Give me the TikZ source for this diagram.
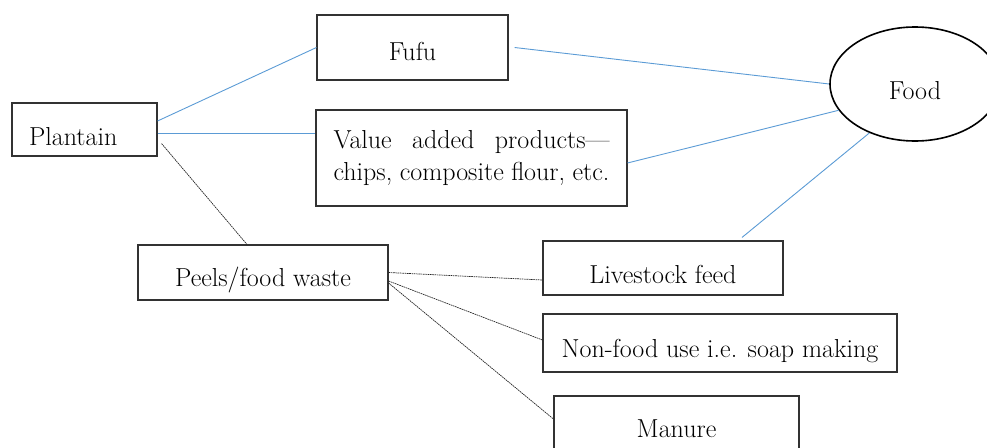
\documentclass[tikz,border=0pt]{standalone}
\usetikzlibrary{shapes.geometric}
\definecolor{linkblue}{RGB}{91,155,213}
\definecolor{boxgray}{RGB}{50,50,50}
\begin{document}
\begin{tikzpicture}[x=1pt,y=-1pt,
  box/.style={draw=boxgray,line width=1.1pt,rectangle,inner sep=0pt,
    font=\fontsize{26}{36}\selectfont},
  base/.style={text height=#1,text depth=0pt},
  bluelink/.style={draw=linkblue,line width=0.9pt},
  waste/.style={draw=black!85,line width=0.7pt,dash pattern=on 1.6pt off 0.7pt}]
\useasboundingbox (0,0) rectangle (987,447);
\node[box,base=31pt,minimum width=145pt,minimum height=53pt,text width=111pt,align=left] (plantain) at (84.5,129.5) {Plantain};
\node[box,base=25pt,minimum width=191pt,minimum height=65pt] (fufu) at (412.5,47.5) {Fufu};
\node[box,minimum width=311pt,minimum height=96pt,align=center] (value) at (471.5,158)
  {\raisebox{-4pt}{\makebox[276pt][s]{Value added products---}}\\\makebox[276pt][s]{chips, composite flour, etc.}};
\node[draw=black,line width=1.6pt,ellipse,minimum width=170pt,minimum height=114pt,inner sep=0pt,
  font=\fontsize{26}{36}\selectfont,base=30pt] (food) at (915,84) {Food};
\node[box,base=30pt,minimum width=240pt,minimum height=54pt] (livestock) at (663,268) {Livestock feed};
\node[box,base=28pt,minimum width=354pt,minimum height=58pt] (nonfood) at (720,343) {Non-food use i.e. soap making};
\node[box,base=18pt,minimum width=245pt,minimum height=64pt] (manure) at (676.5,428) {Manure};
\node[box,base=27pt,minimum width=250pt,minimum height=55pt] (peels) at (263,272.5) {Peels/food waste};
% blue connectors
\draw[bluelink] ([yshift=8.5pt]plantain.east) -- (fufu.west);
\draw[bluelink] ([yshift=-3.5pt]plantain.east) -- ([yshift=25pt]value.west);
\draw[bluelink] ([xshift=6pt]fufu.east) -- (food.west);
\draw[bluelink] ([yshift=-5pt]value.east) -- (food.199);
\draw[bluelink] ([xshift=79pt,yshift=3pt]livestock.north) -- (food.227);
% dashed connectors
\draw[waste] ([xshift=4pt,yshift=13pt]plantain.south east) -- ([xshift=-16pt]peels.north);
\draw[waste] (peels.east) -- ([yshift=-12pt]livestock.west);
\draw[waste] ([yshift=-8.5pt]peels.east) -- ([yshift=3pt]nonfood.west);
\draw[waste] ([yshift=-10.5pt]peels.east) -- ([yshift=9pt]manure.west);
\end{tikzpicture}
\end{document}
